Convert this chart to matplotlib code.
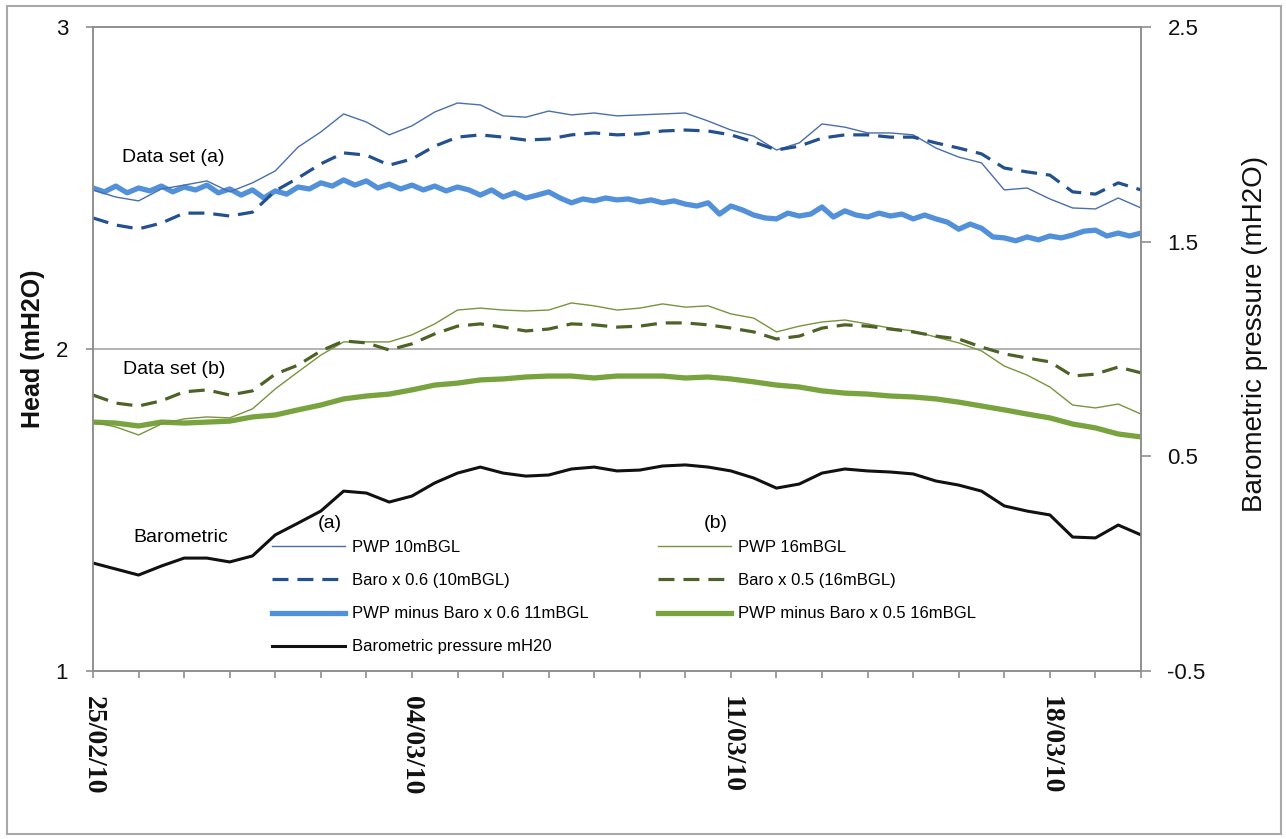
import matplotlib
matplotlib.use('Agg')
import matplotlib.pyplot as plt
import matplotlib.dates as mdates
import numpy as np
from matplotlib.patches import Rectangle
from matplotlib.lines import Line2D

# ---------------- data ----------------
start_date = '2010-02-25'
n_days = 23
xtick_labels = ['25/02/10', '04/03/10', '11/03/10', '18/03/10']

# half-day samples (47 points)
pwp_10 = [2.494, 2.472, 2.460, 2.497, 2.509, 2.522, 2.488, 2.516, 2.553, 2.627,
          2.674, 2.730, 2.705, 2.665, 2.693, 2.736, 2.764, 2.758, 2.724, 2.720,
          2.739, 2.727, 2.733, 2.724, 2.727, 2.730, 2.733, 2.708, 2.680, 2.661,
          2.618, 2.640, 2.699, 2.689, 2.671, 2.671, 2.665, 2.624, 2.596, 2.578,
          2.494, 2.500, 2.466, 2.438, 2.435, 2.469, 2.438]
baro_06 = [2.407, 2.385, 2.373, 2.391, 2.422, 2.422, 2.413, 2.425, 2.491, 2.531,
           2.575, 2.609, 2.602, 2.571, 2.590, 2.630, 2.658, 2.665, 2.658, 2.649,
           2.652, 2.665, 2.671, 2.665, 2.668, 2.677, 2.680, 2.677, 2.665, 2.643,
           2.618, 2.630, 2.655, 2.665, 2.665, 2.658, 2.658, 2.640, 2.624, 2.606,
           2.562, 2.550, 2.540, 2.488, 2.481, 2.516, 2.494]
pwp_16 = [1.773, 1.758, 1.733, 1.767, 1.783, 1.789, 1.786, 1.814, 1.876, 1.929,
          1.981, 2.022, 2.022, 2.022, 2.044, 2.078, 2.121, 2.127, 2.121, 2.118,
          2.121, 2.143, 2.134, 2.121, 2.127, 2.140, 2.130, 2.134, 2.109, 2.096,
          2.053, 2.071, 2.084, 2.090, 2.078, 2.065, 2.056, 2.037, 2.019, 1.994,
          1.947, 1.919, 1.882, 1.826, 1.817, 1.829, 1.798]
baro_05 = [1.857, 1.832, 1.823, 1.839, 1.867, 1.873, 1.857, 1.870, 1.922, 1.950,
           1.994, 2.025, 2.019, 1.997, 2.016, 2.047, 2.071, 2.078, 2.068, 2.056,
           2.062, 2.078, 2.075, 2.068, 2.071, 2.081, 2.081, 2.075, 2.065, 2.053,
           2.031, 2.040, 2.065, 2.075, 2.071, 2.062, 2.053, 2.040, 2.031, 2.006,
           1.985, 1.972, 1.960, 1.916, 1.922, 1.944, 1.926]
pwp_minus_05 = [1.773, 1.770, 1.761, 1.773, 1.770, 1.773, 1.776, 1.789, 1.795, 1.811,
                1.826, 1.845, 1.854, 1.860, 1.873, 1.888, 1.894, 1.904, 1.907, 1.913,
                1.916, 1.916, 1.910, 1.916, 1.916, 1.916, 1.910, 1.913, 1.907, 1.898,
                1.888, 1.882, 1.870, 1.863, 1.860, 1.854, 1.851, 1.845, 1.835, 1.823,
                1.811, 1.798, 1.786, 1.767, 1.755, 1.736, 1.727]
baro_mh2o = [0.003, -0.025, -0.053, -0.011, 0.026, 0.026, 0.008, 0.036, 0.134, 0.189,
             0.245, 0.338, 0.329, 0.287, 0.315, 0.376, 0.422, 0.450, 0.422, 0.408,
             0.413, 0.441, 0.450, 0.432, 0.436, 0.455, 0.460, 0.450, 0.432, 0.399,
             0.352, 0.371, 0.422, 0.441, 0.432, 0.427, 0.418, 0.385, 0.366, 0.338,
             0.269, 0.245, 0.227, 0.124, 0.120, 0.180, 0.134]
# quarter-day samples (93 points)
pwp_minus_06 = [2.500, 2.488, 2.506, 2.485, 2.500, 2.491, 2.506, 2.488, 2.503, 2.494,
                2.509, 2.485, 2.497, 2.478, 2.494, 2.469, 2.491, 2.481, 2.503, 2.497,
                2.516, 2.506, 2.525, 2.509, 2.522, 2.500, 2.512, 2.497, 2.509, 2.494,
                2.506, 2.491, 2.503, 2.494, 2.478, 2.494, 2.472, 2.485, 2.469, 2.478,
                2.488, 2.469, 2.454, 2.466, 2.460, 2.469, 2.463, 2.466, 2.457, 2.463,
                2.454, 2.460, 2.450, 2.444, 2.454, 2.419, 2.444, 2.432, 2.416, 2.407,
                2.404, 2.422, 2.413, 2.419, 2.441, 2.410, 2.429, 2.416, 2.410, 2.422,
                2.413, 2.419, 2.404, 2.416, 2.404, 2.394, 2.372, 2.388, 2.375, 2.348,
                2.345, 2.336, 2.348, 2.339, 2.351, 2.345, 2.354, 2.366, 2.369, 2.351,
                2.360, 2.351, 2.360]

labels_a = ['PWP 10mBGL', 'Baro x 0.6 (10mBGL)', 'PWP minus Baro x 0.6 11mBGL',
            'Barometric pressure mH20']
labels_b = ['PWP 16mBGL', 'Baro x 0.5 (16mBGL)', 'PWP minus Baro x 0.5 16mBGL']

# ---------------- styles ----------------
C_THIN_BLUE = '#4A6FA8'
C_DASH_BLUE = '#23508E'
C_THICK_BLUE = '#5290DA'
C_THIN_GREEN = '#78943E'
C_DASH_GREEN = '#4C6226'
C_THICK_GREEN = '#78A33E'
C_BLACK = '#111111'
GRAY = '#8F8F8F'

W, H = 1286, 839
t0 = np.datetime64(start_date)
t_half = t0 + np.arange(len(pwp_10)) * np.timedelta64(12, 'h')
t_quarter = t0 + np.arange(len(pwp_minus_06)) * np.timedelta64(6, 'h')

fig = plt.figure(figsize=(W / 100, H / 100), dpi=100)
fig.patch.set_facecolor('white')
ax = fig.add_axes([93 / W, 1 - 671 / H, (1141 - 93) / W, (671 - 27) / H])
ax2 = ax.twinx()

DASH = (0, (5.0, 2.8))
st_pwp10 = dict(color=C_THIN_BLUE, lw=1.0, ls='-')
st_b06 = dict(color=C_DASH_BLUE, lw=2.3, ls=DASH)
st_m06 = dict(color=C_THICK_BLUE, lw=3.8, ls='-')
st_baro = dict(color=C_BLACK, lw=2.2, ls='-')
st_pwp16 = dict(color=C_THIN_GREEN, lw=1.0, ls='-')
st_b05 = dict(color=C_DASH_GREEN, lw=2.3, ls=DASH)
st_m05 = dict(color=C_THICK_GREEN, lw=3.8, ls='-')

ax.axhline(2, color='#A5A5A5', lw=1.2, zorder=0.5)
ax.plot(t_quarter, pwp_minus_06, **st_m06, zorder=2)
ax.plot(t_half, pwp_10, **st_pwp10, zorder=3)
ax.plot(t_half, baro_06, **st_b06, zorder=3)
ax.plot(t_half, pwp_minus_05, **st_m05, zorder=2)
ax.plot(t_half, pwp_16, **st_pwp16, zorder=3)
ax.plot(t_half, baro_05, **st_b05, zorder=3)
ax2.plot(t_half, baro_mh2o, **st_baro)

ax.set_ylim(1, 3)
ax.set_yticks([1, 2, 3])
ax.set_yticklabels(['1', '2', '3'])
ax2.set_ylim(-0.5, 2.5)
ax2.set_yticks([-0.5, 0.5, 1.5, 2.5])
ax2.set_yticklabels(['-0.5', '0.5', '1.5', '2.5'])
ax.set_xlim(t0, t0 + np.timedelta64(n_days, 'D'))

major = [t0 + np.timedelta64(7 * i, 'D') for i in range(len(xtick_labels))]
ax.set_xticks(major)
ax.set_xticklabels(xtick_labels, rotation=-90, fontfamily='Liberation Serif',
                   fontweight='bold', fontsize=20, color='#111111')
ax.xaxis.set_minor_locator(mdates.DayLocator(interval=1))

for a in (ax, ax2):
    for s in a.spines.values():
        s.set_color(GRAY)
        s.set_linewidth(1.2)
ax.tick_params(axis='x', which='both', direction='out', length=5, width=1.2,
               color=GRAY, pad=13)
ax.tick_params(axis='y', direction='out', length=5, width=1.2, color=GRAY,
               pad=13, labelsize=16, labelcolor='#111111')
ax2.tick_params(axis='y', direction='out', length=7, width=1.2, color=GRAY,
                pad=12, labelsize=16, labelcolor='#111111')
for lab in ax.get_yticklabels() + ax2.get_yticklabels():
    lab.set_fontfamily('Liberation Sans')


def ft(x, y, s, **kw):
    fig.text(x / W, 1 - y / H, s, **kw)


SANS = 'Liberation Sans'
ft(33, 349, 'Head (mH2O)', rotation=90, ha='center', va='center',
   fontsize=18, fontweight='bold', family=SANS, color='#111111')
ft(1255, 334, 'Barometric pressure (mH2O)', rotation=90, ha='center', va='center',
   fontsize=20, family=SANS, color='#111111')
ft(122, 158, 'Data set (a)', ha='left', va='center', fontsize=14, family=SANS)
ft(123, 369, 'Data set (b)', ha='left', va='center', fontsize=14, family=SANS)
ft(133, 537, 'Barometric', ha='left', va='center', fontsize=14, family=SANS)
ft(330, 524, '(a)', ha='center', va='center', fontsize=14, family=SANS)
ft(716, 524, '(b)', ha='center', va='center', fontsize=14, family=SANS)

h_a = [Line2D([], [], **st_pwp10), Line2D([], [], **st_b06),
       Line2D([], [], **st_m06), Line2D([], [], **st_baro)]
h_b = [Line2D([], [], **st_pwp16), Line2D([], [], **st_b05),
       Line2D([], [], **st_m05)]
leg_kw = dict(loc='upper left', bbox_transform=fig.transFigure, frameon=False,
              borderpad=0, borderaxespad=0, handlelength=4.4, handletextpad=0.4,
              labelspacing=1.09, prop={'family': SANS, 'size': 12})
leg1 = ax2.legend(h_a, labels_a, bbox_to_anchor=(272 / W, 1 - 540 / H), **leg_kw)
ax2.add_artist(leg1)
leg2 = ax2.legend(h_b, labels_b, bbox_to_anchor=(658 / W, 1 - 540 / H), **leg_kw)

fig.patches.append(Rectangle((7 / W, 5 / H), (1281 - 7) / W, (834 - 6) / H,
                             transform=fig.transFigure, fill=False,
                             edgecolor='#A8A8A8', lw=1.5))

fig.savefig('out.png', dpi=100, facecolor='white')
